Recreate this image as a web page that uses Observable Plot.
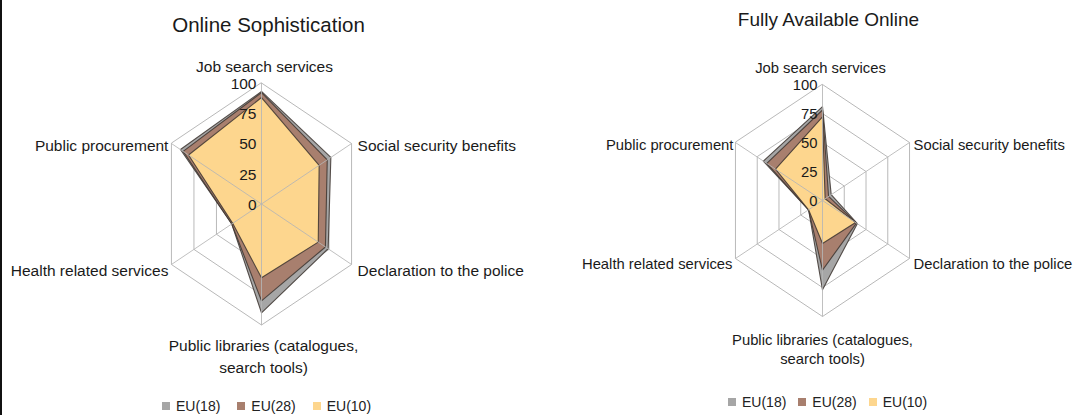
<!DOCTYPE html>
<html><head><meta charset="utf-8">
<script src="https://cdn.jsdelivr.net/npm/d3@7"></script>
<script src="https://cdn.jsdelivr.net/npm/@observablehq/plot@0.6"></script>
<style>
body{margin:0;background:#fff;font-family:"Liberation Sans",Arial,sans-serif;}
#wrap{position:relative;width:1085px;height:415px;overflow:hidden;background:#fff;}
#border{position:absolute;left:0;top:0;width:2px;height:415px;background:#111;}
.panel{position:absolute;top:0;}
.legend{position:absolute;display:flex;align-items:center;font-size:14px;color:#222;line-height:1;white-space:nowrap;}
.sw{width:8px;height:8px;display:inline-block;margin-right:6px;}
</style></head><body><div id="wrap"><div id="border"></div></div>
<script>
// ---- data ----
const axes = ["Job search services","Social security benefits","Declaration to the police","Public libraries (catalogues,\nsearch tools)","Health related services","Public procurement"];
const ticks = [0, 25, 50, 75, 100];
const series = ["EU(18)", "EU(28)", "EU(10)"];
const colors = ["#a6a6a6", "#a87f6e", "#fdd68e"];

const titleSoph = "Online Sophistication";
const sophEU18 = [93, 77, 74, 90, 33, 90];
const sophEU28 = [92, 73, 71, 80, 33, 87];
const sophEU10 = [88, 64, 63, 61, 32, 81];

const titleFull = "Fully Available Online";
const fullEU18 = [81, 10, 40, 77, 16, 68];
const fullEU28 = [78, 7, 39, 60, 16, 64];
const fullEU10 = [72, 3, 38, 37, 16, 54];

// ---- helpers ----
const ang = i => i * Math.PI / 3;
const px = (v, i) => v / 100 * Math.sin(ang(i));
const py = (v, i) => v / 100 * Math.cos(ang(i));

function radar(cfg) {
  const {title, values, cx, cy, R, Rx, width, fs, tfs, lh, place, titleOff} = cfg;
  const marks = [];
  // rings
  const rings = ticks.slice(1).flatMap(t => axes.map((a, i) => ({t, x: px(t, i), y: py(t, i)})));
  marks.push(Plot.line(rings, {x: "x", y: "y", z: "t", curve: "linear-closed", stroke: "#b9b9b9", strokeWidth: 1}));
  // polygons
  values.forEach((vals, s) => {
    const pts = vals.map((v, i) => ({series: series[s], x: px(v, i), y: py(v, i)}));
    marks.push(Plot.line(pts, {x: "x", y: "y", curve: "linear-closed", fill: colors[s], stroke: "#3d3530", strokeWidth: 1.1, strokeOpacity: 0.85}));
  });
  // spokes (on top)
  marks.push(Plot.link(axes, {x1: () => 0, y1: () => 0, x2: (d, i) => px(100, i), y2: (d, i) => py(100, i), stroke: "#b5b5b5", strokeWidth: 1, strokeOpacity: 0.85}));
  // axis labels
  axes.forEach((a, i) => {
    const p = place[i];
    marks.push(Plot.text([a], {x: () => px(100, i), y: () => py(100, i), text: d => d, textAnchor: p.anchor, dx: p.dx, dy: p.dy, fontSize: fs, lineHeight: lh, fill: "#1a1a1a"}));
  });
  // tick labels
  marks.push(Plot.text(ticks, {x: () => 0, y: t => t / 100, text: t => String(t), textAnchor: "end", dx: -5, dy: 1, fontSize: fs, fill: "#1a1a1a"}));
  // title
  marks.push(Plot.text([title], {x: () => 0, y: () => 1, text: d => d, dx: titleOff[0], dy: titleOff[1], fontSize: tfs, fill: "#1a1a1a"}));
  return Plot.plot({
    width, height: 415, margin: 0,
    style: {fontFamily: '"Liberation Sans", Arial, sans-serif', background: "transparent"},
    x: {domain: [-1, 1], range: [cx - Rx, cx + Rx], axis: null},
    y: {domain: [-1, 1], range: [cy + R, cy - R], axis: null},
    marks
  });
}

const wrap = document.getElementById("wrap");
function addPanel(node, left, w) {
  const d = document.createElement("div");
  d.className = "panel"; d.style.left = left + "px"; d.style.width = w + "px";
  d.appendChild(node); wrap.appendChild(d);
}
function addLegend(left, top, gap) {
  const l = document.createElement("div");
  l.className = "legend"; l.style.left = left + "px"; l.style.top = top + "px";
  series.forEach((s, i) => {
    const sw = document.createElement("span"); sw.className = "sw"; sw.style.background = colors[i];
    const t = document.createElement("span"); t.textContent = s;
    if (i < series.length - 1) t.style.marginRight = gap + "px";
    l.appendChild(sw); l.appendChild(t);
  });
  wrap.appendChild(l);
}

addPanel(radar({
  title: titleSoph, values: [sophEU18, sophEU28, sophEU10],
  cx: 261, cy: 203.5, R: 121, Rx: 104, width: 542, fs: 15.5, tfs: 20.5, lh: 1.45,
  titleOff: [7, -57.5],
  place: [
    {anchor: "middle", dx: 3, dy: -18},
    {anchor: "start", dx: 6, dy: 0},
    {anchor: "start", dx: 6, dy: 4},
    {anchor: "middle", dx: 2, dy: 30},
    {anchor: "end", dx: -3, dy: 4},
    {anchor: "end", dx: -3, dy: 0}
  ]
}), 0, 542);

addPanel(radar({
  title: titleFull, values: [fullEU18, fullEU28, fullEU10],
  cx: 280, cy: 200, R: 116, Rx: 100.5, width: 543, fs: 14.8, tfs: 19, lh: 1.28,
  titleOff: [6, -65],
  place: [
    {anchor: "middle", dx: -2, dy: -18},
    {anchor: "start", dx: 4, dy: 1},
    {anchor: "start", dx: 4, dy: 4},
    {anchor: "middle", dx: 0, dy: 31.5},
    {anchor: "end", dx: -3, dy: 4},
    {anchor: "end", dx: -2, dy: 1}
  ]
}), 542, 543);

addLegend(162, 399, 17);
addLegend(728, 395, 12);
</script>
</body></html>
